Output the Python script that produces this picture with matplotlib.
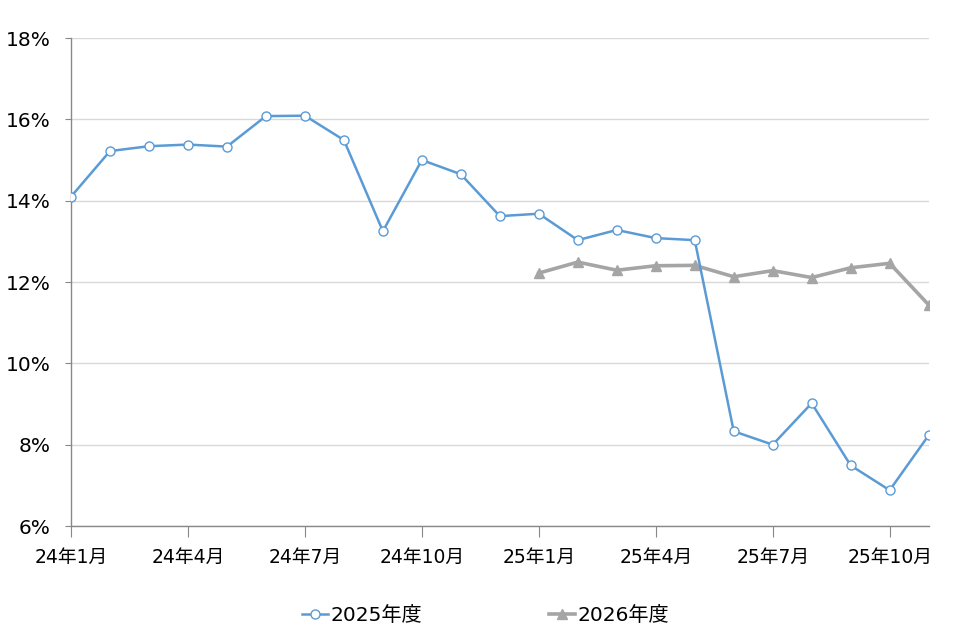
import matplotlib
matplotlib.use("Agg")
import matplotlib.pyplot as plt

plt.rcParams['font.family'] = ['DejaVu Sans', 'Noto Sans CJK JP']

months = ["24年1月", "24年2月", "24年3月", "24年4月", "24年5月", "24年6月", "24年7月", "24年8月",
          "24年9月", "24年10月", "24年11月", "24年12月", "25年1月", "25年2月", "25年3月", "25年4月",
          "25年5月", "25年6月", "25年7月", "25年8月", "25年9月", "25年10月", "25年11月"]
fy2025 = [14.1, 15.22, 15.34, 15.38, 15.33, 16.08, 16.09, 15.49, 13.25, 15.0, 14.65, 13.62,
          13.68, 13.03, 13.28, 13.08, 13.03, 8.33, 8.0, 9.02, 7.49, 6.88, 8.23]
fy2026_months = months[12:]
fy2026 = [12.22, 12.49, 12.29, 12.4, 12.41, 12.13, 12.28, 12.11, 12.35, 12.46, 11.44]
yticks = [6, 8, 10, 12, 14, 16, 18]

fig = plt.figure(figsize=(9.77, 6.39), dpi=100)
ax = fig.add_axes([0.0727, 0.1768, 0.8778, 0.7637])

x1 = list(range(len(months)))
x2 = [months.index(m) for m in fy2026_months]

ax.plot(x1, fy2025, color='#5B9BD5', lw=1.8, marker='o', ms=6.5, mfc='white',
        mec='#5B9BD5', mew=1.0, label='2025年度', zorder=3)
ax.plot(x2, fy2026, color='#A5A5A5', lw=2.6, marker='^', ms=7, mfc='#A5A5A5',
        mec='#A5A5A5', label='2026年度', zorder=2)

ax.set_xlim(0, len(months) - 1)
ax.set_ylim(6, 18)
ax.set_yticks(yticks)
ax.set_yticklabels([f"{v}%" for v in yticks], fontsize=14.5)
tick_idx = list(range(0, len(months), 3))
ax.set_xticks(tick_idx)
ax.set_xticklabels([months[i] for i in tick_idx], fontsize=13.5)
ax.tick_params(axis='x', length=8, color='#888888', pad=8)
ax.tick_params(axis='y', length=4, color='#888888', pad=11)
ax.yaxis.grid(True, color='#D9D9D9', lw=1)
ax.set_axisbelow(True)
for s in ['top', 'right']:
    ax.spines[s].set_visible(False)
for s in ['left', 'bottom']:
    ax.spines[s].set_color('#888888')
    ax.spines[s].set_linewidth(1)

leg = fig.legend(loc='center', bbox_to_anchor=(0.497, 0.037), ncol=2, frameon=False,
                 fontsize=14.5, handlelength=1.3, handletextpad=0.1, columnspacing=6.3)

fig.savefig('out.png', dpi=100)
